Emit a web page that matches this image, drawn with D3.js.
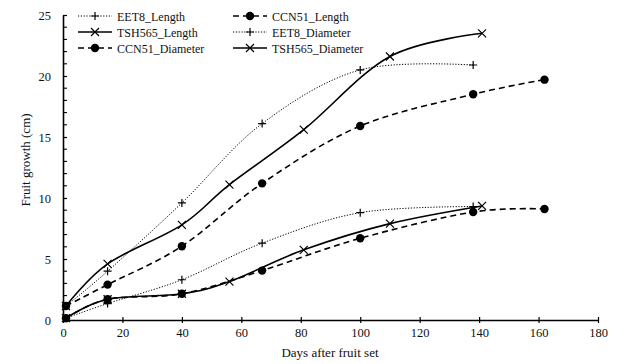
<!DOCTYPE html>
<html>
<head>
<meta charset="utf-8">
<script src="https://cdn.jsdelivr.net/npm/d3@7"></script>
<style>
  body { margin: 0; background: #fff; }
  svg { display: block; font-family: "Liberation Serif", "Times New Roman", serif; }
</style>
</head>
<body>
<svg id="chart" width="628" height="364"></svg>
<script>
// Data (days after fruit set, growth in cm)
var eet8LenDays = [1, 15, 40, 67, 100, 138];
var eet8Len = [1.15, 4.0, 9.6, 16.1, 20.5, 20.9];
var tshLenDays = [1, 15, 40, 56, 81, 110, 141];
var tshLen = [1.15, 4.6, 7.8, 11.1, 15.6, 21.6, 23.5];
var ccnLenDays = [1, 15, 40, 67, 100, 138, 162];
var ccnLen = [1.15, 2.9, 6.05, 11.2, 15.9, 18.5, 19.7];
var eet8DiaDays = [1, 15, 40, 67, 100, 138];
var eet8Dia = [0.15, 1.35, 3.3, 6.3, 8.8, 9.3];
var ccnDiaDays = [1, 15, 40, 67, 100, 138, 162];
var ccnDia = [0.15, 1.7, 2.15, 4.05, 6.7, 8.85, 9.1];
var tshDiaDays = [1, 15, 40, 56, 81, 110, 141];
var tshDia = [0.15, 1.7, 2.15, 3.15, 5.75, 7.9, 9.35];

var xTicks = [0, 20, 40, 60, 80, 100, 120, 140, 160, 180];
var yTicks = [0, 5, 10, 15, 20, 25];

function zip(days, vals) {
    return days.map(function(d, i) { return { day: d, val: vals[i] }; });
}

// series in legend order
var series = [
    { name: "EET8_Length", data: zip(eet8LenDays, eet8Len), dash: "1.2,1.6", width: 1, marker: "plus" },
    { name: "CCN51_Length", data: zip(ccnLenDays, ccnLen), dash: "6,4", width: 1.6, marker: "circle" },
    { name: "TSH565_Length", data: zip(tshLenDays, tshLen), dash: null, width: 1.6, marker: "cross" },
    { name: "EET8_Diameter", data: zip(eet8DiaDays, eet8Dia), dash: "1.2,1.6", width: 1, marker: "plus" },
    { name: "CCN51_Diameter", data: zip(ccnDiaDays, ccnDia), dash: "6,4", width: 1.6, marker: "circle" },
    { name: "TSH565_Diameter", data: zip(tshDiaDays, tshDia), dash: null, width: 1.6, marker: "cross" }
];

var margin = { top: 15, right: 30, bottom: 44, left: 63 };
var width = 598 - margin.left;
var height = 320 - margin.top;

var svg = d3.select("#chart")
    .append("g")
    .attr("transform", "translate(" + margin.left + "," + margin.top + ")");

var xScale = d3.scaleLinear().domain([0, 180]).range([0, width]);
var yScale = d3.scaleLinear().domain([0, 25]).range([height, 0]);

// x axis
var xAxis = svg.append("g")
    .attr("transform", "translate(0," + height + ")")
    .call(d3.axisBottom(xScale).tickValues(xTicks).tickSize(3).tickSizeOuter(0));
xAxis.select(".domain").attr("stroke", "#000").attr("stroke-width", 1.6);
xAxis.selectAll(".tick line").attr("y1", -3).attr("stroke-width", 1.2);
xAxis.selectAll(".tick text")
    .attr("dy", "0.9em")
    .style("font-family", "Liberation Serif")
    .style("font-size", "12.5px")
    .attr("fill", "#111");

// y axis with minor ticks inside
var yAxis = svg.append("g")
    .call(d3.axisLeft(yScale).tickValues(yTicks).tickSize(4).tickSizeOuter(0).tickPadding(8));
yAxis.select(".domain").attr("stroke", "#000").attr("stroke-width", 1.6);
yAxis.selectAll(".tick line").attr("x2", 4).attr("stroke-width", 1.2);
yAxis.selectAll(".tick text")
    .style("font-family", "Liberation Serif")
    .style("font-size", "12.5px")
    .attr("fill", "#111");

var minor = d3.range(0, 26).filter(function(v) { return v % 5 !== 0; });
svg.append("g").selectAll("line")
    .data(minor)
    .enter().append("line")
    .attr("x1", 0).attr("x2", 4)
    .attr("y1", function(d) { return yScale(d); })
    .attr("y2", function(d) { return yScale(d); })
    .attr("stroke", "#000").attr("stroke-width", 1.1);

// lines
var line = d3.line()
    .x(function(d) { return xScale(d.day); })
    .y(function(d) { return yScale(d.val); })
    .curve(d3.curveCatmullRom.alpha(0));

function drawMarker(g, type, x, y) {
    if (type === "circle") {
        g.append("circle").attr("cx", x).attr("cy", y).attr("r", 4.2).attr("fill", "#000");
    } else if (type === "plus") {
        g.append("path").attr("d", "M" + (x - 4) + "," + y + "H" + (x + 4) + "M" + x + "," + (y - 4) + "V" + (y + 4))
            .attr("stroke", "#000").attr("stroke-width", 1.2);
    } else {
        g.append("path").attr("d", "M" + (x - 4) + "," + (y - 4) + "L" + (x + 4) + "," + (y + 4) + "M" + (x - 4) + "," + (y + 4) + "L" + (x + 4) + "," + (y - 4))
            .attr("stroke", "#000").attr("stroke-width", 1.2);
    }
}

series.forEach(function(s) {
    svg.append("path")
        .datum(s.data)
        .attr("d", line)
        .style("fill", "none")
        .style("stroke", "#000")
        .style("stroke-width", s.width)
        .style("stroke-dasharray", s.dash);
    var g = svg.append("g");
    s.data.forEach(function(d) {
        drawMarker(g, s.marker, xScale(d.day), yScale(d.val));
    });
});

// legend: 2 columns, 3 rows
var legend = d3.select("#chart").append("g");
series.forEach(function(s, i) {
    var col = i % 2, row = Math.floor(i / 2);
    var lx = 78 + col * 155, ly = 16 + row * 16;
    var item = legend.append("g");
    item.append("line")
        .attr("x1", lx).attr("x2", lx + 34)
        .attr("y1", ly).attr("y2", ly)
        .attr("stroke", "#000")
        .attr("stroke-width", s.width)
        .style("stroke-dasharray", s.dash);
    drawMarker(item, s.marker, lx + 17, ly);
    item.append("text")
        .attr("x", lx + 39).attr("y", ly + 4.5)
        .style("font-size", "12px")
        .attr("fill", "#111")
        .text(s.name);
});

// axis titles
d3.select("#chart").append("text")
    .attr("x", 330).attr("y", 357)
    .attr("text-anchor", "middle")
    .style("font-size", "13px")
    .attr("fill", "#111")
    .text("Days after fruit set");

d3.select("#chart").append("text")
    .attr("transform", "translate(30,160) rotate(-90)")
    .attr("text-anchor", "middle")
    .style("font-size", "13px")
    .attr("fill", "#111")
    .text("Fruit growth (cm)");
</script>
</body>
</html>
